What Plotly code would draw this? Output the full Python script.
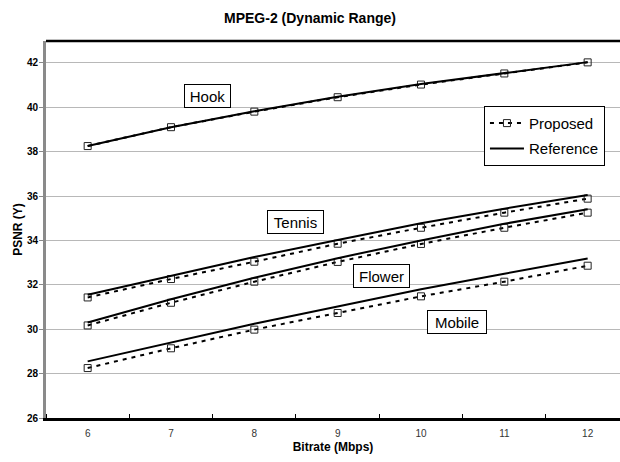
import plotly.graph_objects as go

bitrate = [6, 7, 8, 9, 10, 11, 12]

hook_proposed = [38.25, 39.1, 39.8, 40.45, 41.02, 41.52, 42.02]
hook_reference = [38.25, 39.1, 39.82, 40.47, 41.04, 41.54, 42.03]
tennis_proposed = [31.43, 32.26, 33.04, 33.85, 34.57, 35.25, 35.88]
tennis_reference = [31.55, 32.4, 33.25, 34.02, 34.77, 35.43, 36.05]
flower_proposed = [30.17, 31.19, 32.14, 33.03, 33.84, 34.57, 35.25]
flower_reference = [30.3, 31.35, 32.32, 33.2, 34.0, 34.75, 35.4]
mobile_proposed = [28.25, 29.14, 29.98, 30.73, 31.48, 32.14, 32.86]
mobile_reference = [28.55, 29.4, 30.25, 31.02, 31.8, 32.5, 33.18]

y_ticks = [26, 28, 30, 32, 34, 36, 38, 40, 42]

labels = ["Hook", "Tennis", "Flower", "Mobile"]
label_x = [7.44, 8.49, 9.53, 10.43]
label_y = [40.52, 34.82, 32.41, 30.34]
label_w = [47, 57, 57, 60]

FONT = "Liberation Sans, Arial, sans-serif"

fig = go.Figure()

pairs = [
    (hook_reference, hook_proposed),
    (tennis_reference, tennis_proposed),
    (flower_reference, flower_proposed),
    (mobile_reference, mobile_proposed),
]

for i, (ref, prop) in enumerate(pairs):
    fig.add_trace(go.Scatter(
        x=bitrate, y=prop, mode="lines+markers", name="Proposed",
        legendgroup="prop", showlegend=(i == 0),
        line=dict(color="black", width=2, dash="4px,5px"),
        marker=dict(symbol="square-open", size=7, color="#222222",
                    line=dict(width=1, color="#222222")),
    ))
    fig.add_trace(go.Scatter(
        x=bitrate, y=ref, mode="lines", name="Reference",
        legendgroup="ref", showlegend=(i == 0),
        line=dict(color="black", width=2),
    ))

for t, x, y, w in zip(labels, label_x, label_y, label_w):
    fig.add_annotation(
        x=x, y=y, xref="x", yref="y", text=t, showarrow=False,
        font=dict(family=FONT, size=15, color="black"),
        bgcolor="white", bordercolor="black", borderwidth=1, borderpad=1,
        width=w - 4, height=20,
    )

# top border of the plot area
fig.add_shape(type="line", xref="paper", yref="paper", x0=0, x1=1, y0=1, y1=1,
              line=dict(color="black", width=2.5))

fig.update_layout(
    width=620, height=462,
    margin=dict(l=46, r=0, t=41, b=44),
    paper_bgcolor="white", plot_bgcolor="white",
    title=dict(text="<b>MPEG-2 (Dynamic Range)</b>", x=0.5, xanchor="center",
               y=1 - 18 / 462, yanchor="middle",
               font=dict(family=FONT, size=14, color="black")),
    legend=dict(x=0.763, y=0.828, xanchor="left", yanchor="top",
                bordercolor="black", borderwidth=1, bgcolor="white",
                font=dict(family=FONT, size=15, color="black"),
                traceorder="grouped", tracegroupgap=3,
                itemwidth=34),
    xaxis=dict(
        range=[5.5, 5.5 + 574 / 83.33], tickvals=bitrate,
        ticktext=[str(b) for b in bitrate],
        ticks="", showgrid=False, zeroline=False,
        showline=True, linecolor="black", linewidth=2.5,
        ticklabelstandoff=4,
        tickfont=dict(family=FONT, size=10, color="#333333"),
        minor=dict(ticks="inside", tick0=5.5, dtick=1, ticklen=4,
                   tickcolor="black", showgrid=False),
        title=dict(text="<b>Bitrate (Mbps)</b>", standoff=5,
                   font=dict(family=FONT, size=12, color="black")),
    ),
    yaxis=dict(
        range=[26, 26 + 377 / 22.2], tickvals=y_ticks,
        ticktext=[f"<b>{v}</b>" for v in y_ticks],
        ticks="outside", ticklen=4, tickcolor="#888888",
        ticklabelstandoff=-1,
        showgrid=True, gridcolor="#b8b8b8", gridwidth=1, zeroline=False,
        showline=True, linecolor="#8a8a8a", linewidth=3,
        tickfont=dict(family=FONT, size=10, color="black"),
        title=dict(text="<b>PSNR (Y)</b>", standoff=2,
                   font=dict(family=FONT, size=12, color="black")),
    ),
)

fig.write_html(
    "out.html",
    config={"displayModeBar": False},
    post_script="document.body.style.margin='0';document.body.style.padding='0';",
)
